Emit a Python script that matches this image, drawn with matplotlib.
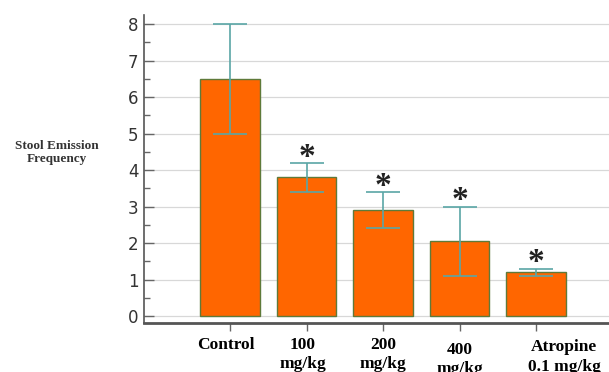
import matplotlib.pyplot as plt
import numpy as np

# data
groups = ['Control', '100\nmg/kg', '200\nmg/kg', '400\nmg/kg', 'Atropine\n0.1 mg/kg']
means = [6.5, 3.8, 2.9, 2.05, 1.2]
errors = [1.5, 0.4, 0.5, 0.95, 0.1]
significant = [False, True, True, True, True]

fig = plt.figure(figsize=(6.09, 3.72), dpi=100)
ax = fig.add_axes([0.2365, 0.1317, 0.7635, 0.8283])

x = np.arange(len(groups))
ax.bar(x, means, width=0.78, color='#FF6600', edgecolor='#5f7a3a', linewidth=1.0, zorder=3)
ax.errorbar(x, means, yerr=errors, fmt='none', ecolor='#5aa6a6', elinewidth=1.2,
            capsize=12, capthick=1.2, zorder=4)

for xi, m, e, s in zip(x, means, errors, significant):
    if s:
        ax.text(xi, m + e - 0.27, '*', ha='center', va='bottom', fontsize=24,
                fontweight='bold', family='Liberation Serif', color='#222222', zorder=5)

ax.set_xlim(-1.124, 4.954)
ax.set_ylim(-0.19, 8.25)
ax.set_yticks(range(0, 9))
ax.set_yticks(np.arange(0.5, 8, 1), minor=True)
ax.yaxis.grid(True, color='#d8d8d8', linewidth=0.9, zorder=0)
ax.set_axisbelow(True)

ax.set_xticks(x)
ax.set_xticklabels([])
# label offsets (x shift, y position) to follow the original layout
label_dx = [-0.06, -0.05, 0.0, 0.0, 0.37]
label_y = [-0.56, -0.56, -0.56, -0.70, -0.62]
for xi, g, dx, ly in zip(x, groups, label_dx, label_y):
    ax.text(xi + dx, ly, g, ha='center', va='top', fontsize=12.5, fontweight='bold',
            family='Liberation Serif', linespacing=1.32, clip_on=False)

ax.tick_params(axis='y', which='major', direction='in', length=7, width=1,
               color='#666666', labelsize=12, labelcolor='#333333', pad=4)
ax.tick_params(axis='y', which='minor', direction='in', length=4, width=1, color='#666666')
ax.tick_params(axis='x', direction='out', length=6, width=1, color='#666666')

for side in ['top', 'right']:
    ax.spines[side].set_visible(False)
ax.spines['left'].set_color('#555555')
ax.spines['left'].set_linewidth(1.2)
ax.spines['bottom'].set_color('#555555')
ax.spines['bottom'].set_linewidth(2)

fig.text(0.094, 0.59, 'Stool Emission\nFrequency', ha='center', va='center',
         fontsize=9.5, fontweight='bold', family='Liberation Serif', color='#333333')

fig.savefig('out.png', dpi=100)
